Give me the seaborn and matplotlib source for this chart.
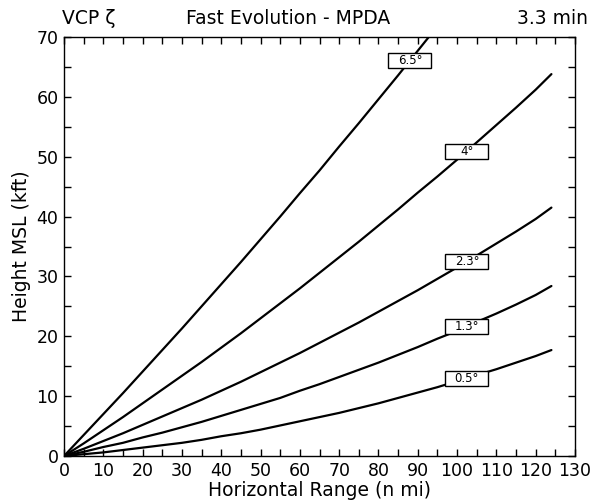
import numpy as np
import pandas as pd
import seaborn as sns
import matplotlib.pyplot as plt
from matplotlib.patches import Rectangle
from matplotlib.transforms import ScaledTranslation

# beam heights (kft MSL) at each horizontal range (n mi)
ranges = [0, 5, 10, 15, 20, 25, 30, 35, 40, 45, 50, 55, 60, 65, 70, 75, 80, 85,
		  90, 95, 100, 105, 110, 115, 120, 124]
h_05 = [0, 0.3, 0.6, 1.0, 1.4, 1.8, 2.2, 2.7, 3.3, 3.8, 4.4, 5.1, 5.8, 6.5, 7.2,
		8.0, 8.8, 9.7, 10.6, 11.5, 12.5, 13.5, 14.5, 15.6, 16.7, 17.7]
h_13 = [0, 0.7, 1.5, 2.2, 3.1, 3.9, 4.8, 5.7, 6.7, 7.7, 8.7, 9.7, 10.9, 12.0,
		13.2, 14.4, 15.6, 16.9, 18.2, 19.6, 20.9, 22.4, 23.8, 25.3, 26.9, 28.4]
h_23 = [0, 1.2, 2.5, 3.8, 5.2, 6.6, 8.0, 9.4, 10.9, 12.4, 14.0, 15.6, 17.2, 18.9,
		20.6, 22.3, 24.1, 25.9, 27.7, 29.6, 31.5, 33.5, 35.5, 37.5, 39.6, 41.5]
h_40 = [0, 2.1, 4.3, 6.5, 8.8, 11.1, 13.4, 15.7, 18.1, 20.5, 23.0, 25.5, 28.0,
		30.6, 33.2, 35.8, 38.5, 41.2, 44.0, 46.7, 49.5, 52.4, 55.3, 58.2, 61.2, 63.8]
h_65 = [0, 3.5, 7.0, 10.5, 14.1, 17.7, 21.3, 25.0, 28.7, 32.4, 36.2, 40.0, 43.9,
		47.7, 51.7, 55.6, 59.6, 63.6, 67.7, 71.8, 75.9, 80.1, 84.3, 88.6, 92.8, 96.3]

angles = ['0.5°', '1.3°', '2.3°', '4°', '6.5°']
label_x = [102.5, 102.5, 102.5, 102.5, 88]

heights = [h_05, h_13, h_23, h_40, h_65]
rows = []
for a, h in zip(angles, heights):
	for r, v in zip(ranges, h):
		rows.append({'range': r, 'height': v, 'angle': a})
df = pd.DataFrame(rows)

sns.set_style('ticks')
plt.rcParams['font.family'] = ['DejaVu Sans']
plt.rcParams['text.color'] = 'black'
plt.rcParams['axes.labelcolor'] = 'black'
plt.rcParams['xtick.color'] = 'black'
plt.rcParams['ytick.color'] = 'black'

fig = plt.figure(figsize=(5.96, 5.04), dpi=100)
ax = fig.add_axes([64 / 596, 1 - 456 / 504, 511 / 596, 419 / 504])

sns.lineplot(data=df, x='range', y='height', hue='angle', palette=['black'] * 5,
			 linewidth=1.6, legend=False, ax=ax)

ax.set_xlim(0, 130)
ax.set_ylim(0, 70)
ax.set_xticks(np.arange(0, 131, 10))
ax.set_xticks(np.arange(0, 131, 5), minor=True)
ax.set_yticks(np.arange(0, 71, 10))
ax.set_yticks(np.arange(0, 71, 5), minor=True)
ax.tick_params(which='both', direction='in', top=True, right=True,
			   length=5, width=1, color='black')
ax.tick_params(which='major', labelsize=12.5, pad=4, labelcolor='black')
for s in ax.spines.values():
	s.set_linewidth(1)
	s.set_color('black')

ax.set_xlabel('Horizontal Range (n mi)', fontsize=13.5, labelpad=1, color='black')
ax.set_ylabel('Height MSL (kft)', fontsize=13.5, labelpad=4, color='black')

# angle labels in boxes sitting on each line
for a, h, lx in zip(angles, heights, label_x):
	ly = np.interp(lx, ranges, h)
	tr = fig.dpi_scale_trans + ScaledTranslation(lx, ly, ax.transData)
	ax.add_patch(Rectangle((-0.215, -0.075), 0.43, 0.15, transform=tr,
						   facecolor='white', edgecolor='black', linewidth=1,
						   zorder=5, clip_on=False))
	ax.text(lx, ly, a, ha='center', va='center', fontsize=8.5, color='black',
			zorder=6)

fig.text(62 / 596, 1 - 18 / 504, 'VCP ζ', fontsize=13.5, ha='left', va='center')
fig.text(288 / 596, 1 - 18 / 504, 'Fast Evolution - MPDA', fontsize=13.5,
		 ha='center', va='center')
fig.text(588 / 596, 1 - 18 / 504, '3.3 min', fontsize=13.5, ha='right', va='center')

fig.savefig('out.png', dpi=100)
